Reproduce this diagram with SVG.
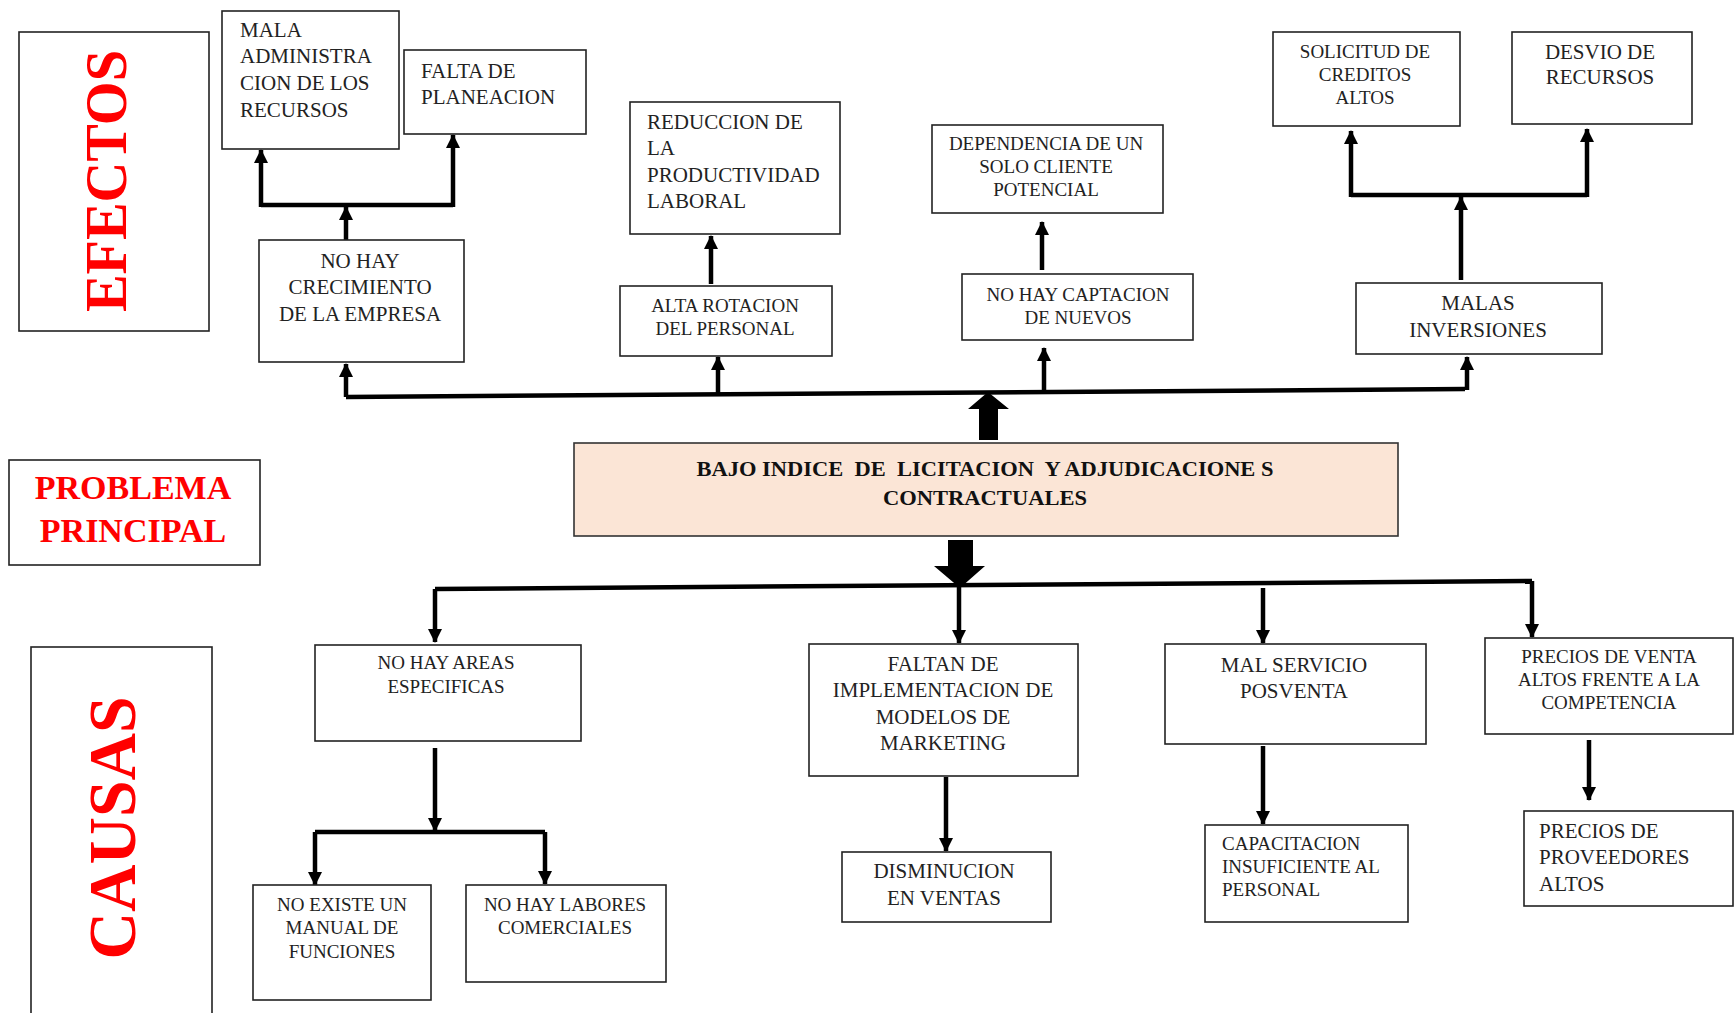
<svg xmlns="http://www.w3.org/2000/svg" width="1734" height="1013" viewBox="0 0 1734 1013">
<style>
.box{fill:#fff;stroke:#222;stroke-width:1.6}
.t{font-family:"Liberation Serif","Times New Roman",serif;font-size:21px;fill:#222}
.s{font-size:19px}
.c{text-anchor:middle}
.red{font-family:"Liberation Serif","Times New Roman",serif;font-weight:bold;fill:#ff0000}
.b{font-family:"Liberation Serif","Times New Roman",serif;font-weight:bold;font-size:21px;fill:#111;text-anchor:middle}
.ln{stroke:#000;stroke-width:4.5;fill:none}
.ar{stroke:#000;stroke-width:4.5;fill:none;marker-end:url(#ah)}
</style>
<defs>
<marker id="ah" markerUnits="userSpaceOnUse" markerWidth="16" markerHeight="16" refX="13" refY="7" orient="auto">
<path d="M0,0 L14,7 L0,14 z" fill="#000"/>
</marker>
</defs>
<rect width="1734" height="1013" fill="#fff"/>

<g id="efectos-label">
<rect class="box" x="19" y="32" width="190" height="299"/>
<text class="red" font-size="60" text-anchor="middle" dominant-baseline="central" transform="translate(106,181) rotate(-90)" textLength="262" lengthAdjust="spacingAndGlyphs">EFECTOS</text>
</g>
<g id="problema-label">
<rect class="box" x="9" y="460" width="251" height="105"/>
<text class="red" font-size="34" text-anchor="middle" x="133" y="499">PROBLEMA</text>
<text class="red" font-size="34" text-anchor="middle" x="133" y="542">PRINCIPAL</text>
</g>
<g id="causas-label">
<rect class="box" x="31" y="647" width="181" height="380"/>
<text class="red" font-size="68" text-anchor="middle" dominant-baseline="central" transform="translate(112,828) rotate(-90)" textLength="263" lengthAdjust="spacingAndGlyphs">CAUSAS</text>
</g>

<g id="connectors">
<path class="ln" d="M346,397 L1465,389"/>
<path class="ar" d="M346,397 L346,364"/>
<path class="ar" d="M718,394 L718,357"/>
<path class="ar" d="M1044,391 L1044,348"/>
<path class="ar" d="M1467,390 L1467,357"/>
<path class="ar" d="M346,240 L346,207"/>
<path class="ln" d="M261,205 L453,205"/>
<path class="ar" d="M261,207 L261,150"/>
<path class="ar" d="M453,207 L453,135"/>
<path class="ar" d="M711,284 L711,236"/>
<path class="ar" d="M1042,270 L1042,222"/>
<path class="ar" d="M1461,280 L1461,197"/>
<path class="ln" d="M1351,195 L1587,195"/>
<path class="ar" d="M1351,197 L1351,131"/>
<path class="ar" d="M1587,197 L1587,129"/>
<polygon points="979,440 998,440 998,409 1009,409 988,392 968,409 979,409" fill="#000"/>
<polygon points="948,540 973,540 973,566 985,566 960,588 934,566 948,566" fill="#000"/>
<path class="ln" d="M435,589 L1532,581"/>
<path class="ar" d="M435,589 L435,642"/>
<path class="ar" d="M959,586 L959,643"/>
<path class="ar" d="M1263,588 L1263,643"/>
<path class="ar" d="M1532,581 L1532,637"/>
<path class="ar" d="M435,748 L435,831"/>
<path class="ln" d="M315,832 L545,832"/>
<path class="ar" d="M315,832 L315,885"/>
<path class="ar" d="M545,832 L545,884"/>
<path class="ar" d="M946,777 L946,851"/>
<path class="ar" d="M1263,746 L1263,824"/>
<path class="ar" d="M1589,740 L1589,800"/>
</g>

<g id="mala-administracion">
<rect class="box" x="222" y="11" width="177" height="138"/>
<text class="t" x="240" y="37">MALA</text>
<text class="t" x="240" y="63">ADMINISTRA</text>
<text class="t" x="240" y="90">CION DE LOS</text>
<text class="t" x="240" y="117">RECURSOS</text>
</g>
<g id="falta-planeacion">
<rect class="box" x="404" y="50" width="182" height="84"/>
<text class="t" x="421" y="78">FALTA DE</text>
<text class="t" x="421" y="104">PLANEACION</text>
</g>
<g id="no-hay-crecimiento">
<rect class="box" x="259" y="240" width="205" height="122"/>
<text class="t c" x="360" y="268">NO HAY</text>
<text class="t c" x="360" y="294">CRECIMIENTO</text>
<text class="t c" x="360" y="321">DE LA EMPRESA</text>
</g>
<g id="reduccion-productividad">
<rect class="box" x="630" y="102" width="210" height="132"/>
<text class="t" x="647" y="129">REDUCCION DE</text>
<text class="t" x="647" y="155">LA</text>
<text class="t" x="647" y="182">PRODUCTIVIDAD</text>
<text class="t" x="647" y="208">LABORAL</text>
</g>
<g id="alta-rotacion">
<rect class="box" x="620" y="286" width="212" height="70"/>
<text class="t s c" x="725" y="312">ALTA ROTACION</text>
<text class="t s c" x="725" y="335">DEL PERSONAL</text>
</g>
<g id="dependencia-cliente">
<rect class="box" x="932" y="125" width="231" height="88"/>
<text class="t s c" x="1046" y="150">DEPENDENCIA DE UN</text>
<text class="t s c" x="1046" y="173">SOLO CLIENTE</text>
<text class="t s c" x="1046" y="196">POTENCIAL</text>
</g>
<g id="no-hay-captacion">
<rect class="box" x="962" y="274" width="231" height="66"/>
<text class="t s c" x="1078" y="301">NO HAY CAPTACION</text>
<text class="t s c" x="1078" y="324">DE NUEVOS</text>
</g>
<g id="solicitud-creditos">
<rect class="box" x="1273" y="32" width="187" height="94"/>
<text class="t s c" x="1365" y="58">SOLICITUD DE</text>
<text class="t s c" x="1365" y="81">CREDITOS</text>
<text class="t s c" x="1365" y="104">ALTOS</text>
</g>
<g id="desvio-recursos">
<rect class="box" x="1512" y="32" width="180" height="92"/>
<text class="t c" x="1600" y="59">DESVIO DE</text>
<text class="t c" x="1600" y="84">RECURSOS</text>
</g>
<g id="malas-inversiones">
<rect class="box" x="1356" y="283" width="246" height="71"/>
<text class="t c" x="1478" y="310">MALAS</text>
<text class="t c" x="1478" y="337">INVERSIONES</text>
</g>

<g id="problema-principal">
<rect x="574" y="443" width="824" height="93" fill="#fbe5d6" stroke="#333" stroke-width="1.6"/>
<text class="b" x="985" y="476" xml:space="preserve" textLength="577" lengthAdjust="spacingAndGlyphs">BAJO INDICE  DE  LICITACION  Y ADJUDICACIONE S</text>
<text class="b" x="985" y="505" textLength="204" lengthAdjust="spacingAndGlyphs">CONTRACTUALES</text>
</g>

<g id="no-hay-areas">
<rect class="box" x="315" y="645" width="266" height="96"/>
<text class="t s c" x="446" y="669">NO HAY AREAS</text>
<text class="t s c" x="446" y="693">ESPECIFICAS</text>
</g>
<g id="no-existe-manual">
<rect class="box" x="253" y="885" width="178" height="115"/>
<text class="t s c" x="342" y="911">NO EXISTE UN</text>
<text class="t s c" x="342" y="934">MANUAL DE</text>
<text class="t s c" x="342" y="958">FUNCIONES</text>
</g>
<g id="no-hay-labores">
<rect class="box" x="466" y="885" width="200" height="97"/>
<text class="t s c" x="565" y="911">NO HAY LABORES</text>
<text class="t s c" x="565" y="934">COMERCIALES</text>
</g>
<g id="faltan-implementacion">
<rect class="box" x="809" y="644" width="269" height="132"/>
<text class="t c" x="943" y="671">FALTAN DE</text>
<text class="t c" x="943" y="697">IMPLEMENTACION DE</text>
<text class="t c" x="943" y="724">MODELOS DE</text>
<text class="t c" x="943" y="750">MARKETING</text>
</g>
<g id="disminucion-ventas">
<rect class="box" x="842" y="852" width="209" height="70"/>
<text class="t c" x="944" y="878">DISMINUCION</text>
<text class="t c" x="944" y="905">EN VENTAS</text>
</g>
<g id="mal-servicio">
<rect class="box" x="1165" y="644" width="261" height="100"/>
<text class="t c" x="1294" y="672">MAL SERVICIO</text>
<text class="t c" x="1294" y="698">POSVENTA</text>
</g>
<g id="capacitacion">
<rect class="box" x="1205" y="825" width="203" height="97"/>
<text class="t s" x="1222" y="850">CAPACITACION</text>
<text class="t s" x="1222" y="873">INSUFICIENTE AL</text>
<text class="t s" x="1222" y="896">PERSONAL</text>
</g>
<g id="precios-venta">
<rect class="box" x="1485" y="638" width="248" height="96"/>
<text class="t s c" x="1609" y="663">PRECIOS DE VENTA</text>
<text class="t s c" x="1609" y="686">ALTOS FRENTE A LA</text>
<text class="t s c" x="1609" y="709">COMPETENCIA</text>
</g>
<g id="precios-proveedores">
<rect class="box" x="1524" y="811" width="209" height="95"/>
<text class="t" x="1539" y="838">PRECIOS DE</text>
<text class="t" x="1539" y="864">PROVEEDORES</text>
<text class="t" x="1539" y="891">ALTOS</text>
</g>
</svg>
